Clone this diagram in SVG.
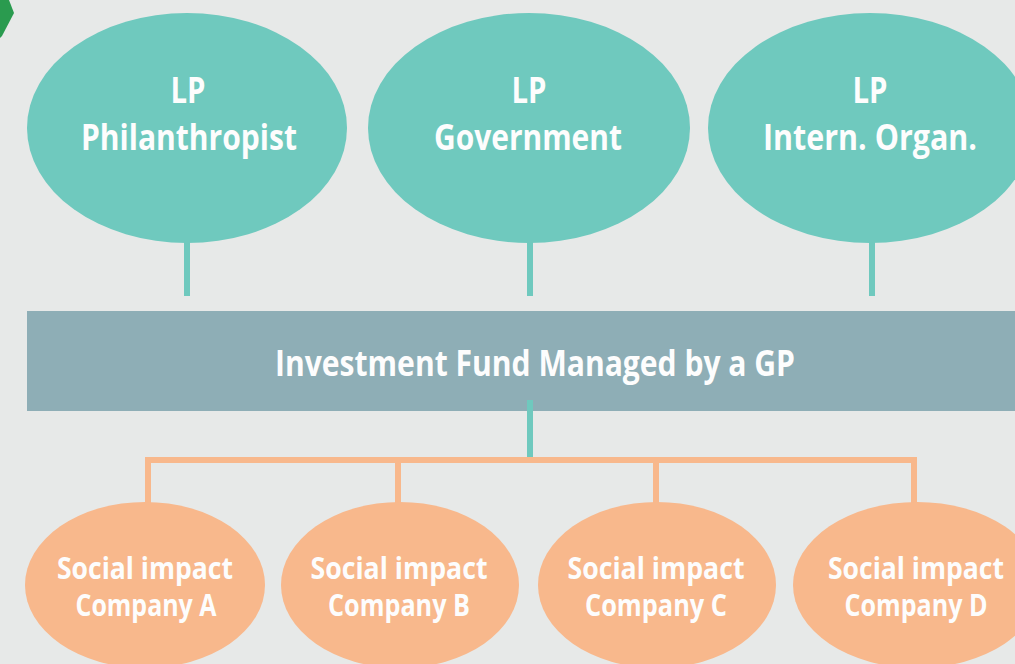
<svg xmlns="http://www.w3.org/2000/svg" width="1015" height="664" viewBox="0 0 1015 664">
<style>
.lp{fill:#6fc9be}
.co{fill:#f8b88c}
.t{font-family:"Open Sans","Liberation Sans",sans-serif;font-weight:bold;fill:#fdfdfd;text-anchor:middle}
.t1{font-size:35px}
.t2{font-size:30px}
.tl{stroke:#6fc9be;stroke-width:6;fill:none}
.ol{stroke:#f8b88c;stroke-width:6;fill:none}
</style>
<rect width="1015" height="664" fill="#e7e9e8"/>
<polygon points="0,0 9,0 14,13 2,36 0,38" fill="#2a9b4f"/>
<g id="connectors">
<line class="tl" x1="187" y1="240" x2="187" y2="296"/>
<line class="tl" x1="530" y1="240" x2="530" y2="296"/>
<line class="tl" x1="872" y1="240" x2="872" y2="296"/>
<line class="tl" x1="530" y1="400" x2="530" y2="458"/>
<polyline class="ol" points="148,505 148,460 914,460 914,505"/>
<line class="ol" x1="398" y1="460" x2="398" y2="505"/>
<line class="ol" x1="656" y1="460" x2="656" y2="505"/>
</g>
<g id="lp1">
<ellipse class="lp" cx="187" cy="128" rx="160" ry="115"/>
<text class="t t1" x="188" y="103" textLength="35" lengthAdjust="spacingAndGlyphs">LP</text>
<text class="t t1" x="189" y="150" textLength="216" lengthAdjust="spacingAndGlyphs">Philanthropist</text>
</g>
<g id="lp2">
<ellipse class="lp" cx="529" cy="128" rx="161" ry="115"/>
<text class="t t1" x="529" y="103" textLength="35" lengthAdjust="spacingAndGlyphs">LP</text>
<text class="t t1" x="528" y="150" textLength="188" lengthAdjust="spacingAndGlyphs">Government</text>
</g>
<g id="lp3">
<ellipse class="lp" cx="870" cy="128" rx="162" ry="115"/>
<text class="t t1" x="870" y="103" textLength="35" lengthAdjust="spacingAndGlyphs">LP</text>
<text class="t t1" x="870" y="150" textLength="214" lengthAdjust="spacingAndGlyphs">Intern. Organ.</text>
</g>
<g id="fund">
<rect x="27" y="311" width="988" height="100" fill="#8eaeb6"/>
<text class="t t1" x="535" y="376" textLength="520" lengthAdjust="spacingAndGlyphs">Investment Fund Managed by a GP</text>
</g>
<line class="tl" x1="530" y1="400" x2="530" y2="412"/>
<g id="coA">
<ellipse class="co" cx="145" cy="585" rx="120" ry="83"/>
<text class="t t2" x="145" y="579" textLength="176" lengthAdjust="spacingAndGlyphs">Social impact</text>
<text class="t t2" x="146" y="616" textLength="141" lengthAdjust="spacingAndGlyphs">Company A</text>
</g>
<g id="coB">
<ellipse class="co" cx="400" cy="585" rx="119" ry="83"/>
<text class="t t2" x="399" y="579" textLength="177" lengthAdjust="spacingAndGlyphs">Social impact</text>
<text class="t t2" x="399" y="616" textLength="142" lengthAdjust="spacingAndGlyphs">Company B</text>
</g>
<g id="coC">
<ellipse class="co" cx="657" cy="585" rx="119" ry="83"/>
<text class="t t2" x="656" y="579" textLength="177" lengthAdjust="spacingAndGlyphs">Social impact</text>
<text class="t t2" x="656" y="616" textLength="142" lengthAdjust="spacingAndGlyphs">Company C</text>
</g>
<g id="coD">
<ellipse class="co" cx="917" cy="585" rx="124" ry="83"/>
<text class="t t2" x="916" y="579" textLength="176" lengthAdjust="spacingAndGlyphs">Social impact</text>
<text class="t t2" x="916" y="616" textLength="143" lengthAdjust="spacingAndGlyphs">Company D</text>
</g>
</svg>
